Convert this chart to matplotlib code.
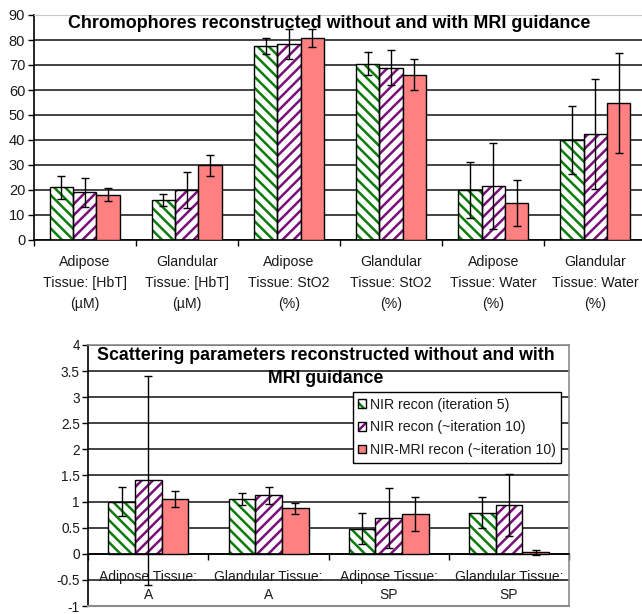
import matplotlib
matplotlib.use("Agg")
import matplotlib.pyplot as plt
from matplotlib.patches import Patch
from matplotlib.lines import Line2D
import numpy as np

plt.rcParams['font.family'] = ['Liberation Sans', 'DejaVu Sans']
plt.rcParams['hatch.linewidth'] = 1.8

# ---- chromophore data (top panel) ----
top_categories = ["Adipose\nTissue: [HbT]\n(µM)", "Glandular\nTissue: [HbT]\n(µM)",
                  "Adipose\nTissue: StO2\n(%)", "Glandular\nTissue: StO2\n(%)",
                  "Adipose\nTissue: Water\n(%)", "Glandular\nTissue: Water\n(%)"]
top_nir5 = [21.0, 16.0, 77.7, 70.5, 20.0, 40.0]
top_nir5_err = [4.6, 2.5, 3.2, 4.7, 11.2, 13.5]
top_nir10 = [19.0, 19.8, 78.2, 68.9, 21.7, 42.5]
top_nir10_err = [5.7, 7.2, 6.0, 7.0, 17.2, 22.0]
top_mri = [18.0, 29.8, 80.8, 66.0, 14.8, 54.7]
top_mri_err = [2.6, 4.2, 3.7, 6.2, 9.3, 20.0]
top_yticks = [0, 10, 20, 30, 40, 50, 60, 70, 80, 90]

# ---- scattering data (bottom panel) ----
bot_categories = ["Adipose Tissue:\nA", "Glandular Tissue:\nA",
                  "Adipose Tissue:\nSP", "Glandular Tissue:\nSP"]
bot_nir5 = [1.0, 1.05, 0.48, 0.79]
bot_nir5_err = [0.28, 0.12, 0.30, 0.30]
bot_nir10 = [1.41, 1.12, 0.69, 0.93]
bot_nir10_err = [2.0, 0.16, 0.57, 0.59]
bot_mri = [1.05, 0.87, 0.76, 0.025]
bot_mri_err = [0.16, 0.11, 0.33, 0.045]
bot_yticks = [-1, -0.5, 0, 0.5, 1, 1.5, 2, 2.5, 3, 3.5, 4]

series_labels = ["NIR recon (iteration 5)", "NIR recon (~iteration 10)",
                 "NIR-MRI recon (~iteration 10)"]

GREEN = "#0a7d0a"
PURPLE = "#7a0f7a"
SALMON = "#ff8080"
TXT = "#1a1a1a"
HATCH_GREEN = "\\\\\\"
HATCH_PURPLE = "///"

W, H = 642, 614
fig = plt.figure(figsize=(W / 100, H / 100), dpi=100)


def px_axes(x0, x1, ytop, ybot):
    return fig.add_axes([x0 / W, 1 - ybot / H, (x1 - x0) / W, (ybot - ytop) / H])


def draw_groups(ax, x, width, s1, e1, s2, e2, s3, e3):
    offs = [-width, 0, width]
    # hatched series
    for vals, errs, col, hatch, off in [(s1, e1, GREEN, HATCH_GREEN, offs[0]),
                                       (s2, e2, PURPLE, HATCH_PURPLE, offs[1])]:
        ax.bar(x + off, vals, width, color="white", edgecolor=col, hatch=hatch,
               linewidth=0, zorder=2)
        ax.bar(x + off, vals, width, fill=False, edgecolor="black", linewidth=1.0, zorder=3)
        ax.errorbar(x + off, vals, yerr=errs, fmt="none", ecolor="black",
                    elinewidth=1.0, capsize=3, capthick=1.0, zorder=4)
    ax.bar(x + offs[2], s3, width, color=SALMON, edgecolor="black", linewidth=1.0, zorder=3)
    ax.errorbar(x + offs[2], s3, yerr=e3, fmt="none", ecolor="black",
                elinewidth=1.0, capsize=3, capthick=1.0, zorder=4)


# ================= top panel =================
ax1 = px_axes(33.5, 646.5, 15, 240)
x1 = np.arange(len(top_categories))
draw_groups(ax1, x1, 0.228, top_nir5, top_nir5_err, top_nir10, top_nir10_err,
            top_mri, top_mri_err)
ax1.set_xlim(-0.5, len(top_categories) - 0.5)
ax1.set_ylim(0, 90)
ax1.set_yticks(top_yticks)
ax1.set_yticklabels([str(v) for v in top_yticks], fontsize=10.5, color=TXT)
ax1.set_axisbelow(True)
ax1.yaxis.grid(True, color="#222222", linewidth=1.2)
ax1.set_xticks(x1)
ax1.set_xticklabels(top_categories, fontsize=10.2, color=TXT, linespacing=1.62)
ax1.set_xticks(np.arange(-0.5, len(top_categories)), minor=True)
ax1.tick_params(axis="x", which="major", length=0, pad=11)
ax1.tick_params(axis="x", which="minor", length=4, width=1, direction="out")
ax1.tick_params(axis="y", length=4, width=1, direction="out", pad=2)
for s in ["left", "bottom"]:
    ax1.spines[s].set_color("black")
    ax1.spines[s].set_linewidth(1.2)
ax1.spines["top"].set_color("#c8c8c8")
ax1.spines["right"].set_visible(False)
fig.text(329 / W, 1 - 23 / H, "Chromophores reconstructed without and with MRI guidance",
         ha="center", va="center", fontsize=12.9, fontweight="bold", color="black")

# ================= bottom panel =================
ax2 = px_axes(88.3, 569, 345, 606)
x2 = np.arange(len(bot_categories))
draw_groups(ax2, x2, 0.222, bot_nir5, bot_nir5_err, bot_nir10, bot_nir10_err,
            bot_mri, bot_mri_err)
ax2.set_xlim(-0.5, len(bot_categories) - 0.5)
ax2.set_ylim(-1, 4)
ax2.set_yticks(bot_yticks)
ax2.set_yticklabels([f"{v:g}" for v in bot_yticks], fontsize=9.8, color=TXT)
ax2.set_axisbelow(True)
ax2.yaxis.grid(True, color="#222222", linewidth=1.2)
ax2.spines["bottom"].set_position(("data", 0))
ax2.spines["bottom"].set_color("black")
ax2.spines["bottom"].set_linewidth(1.2)
ax2.spines["left"].set_color("black")
ax2.spines["left"].set_linewidth(1.2)
for s in ["top", "right"]:
    ax2.spines[s].set_color("#8c8c8c")
    ax2.spines[s].set_linewidth(1.2)
ax2.add_line(Line2D([0, 1], [0, 0], transform=ax2.transAxes, color="#8c8c8c",
                    linewidth=1.5, clip_on=False, zorder=5))
ax2.set_xticks(x2)
ax2.set_xticklabels(bot_categories, fontsize=10, color=TXT, linespacing=1.35)
ax2.set_xticks(np.arange(-0.5, len(bot_categories)), minor=True)
ax2.tick_params(axis="x", which="major", length=0, pad=12)
ax2.tick_params(axis="x", which="minor", length=4, width=1, direction="out")
ax2.tick_params(axis="y", length=4, width=1, direction="out", pad=2)

fig.text(326 / W, 1 - 367 / H,
         "Scattering parameters reconstructed without and with\nMRI guidance",
         ha="center", va="center", fontsize=12.8, fontweight="bold", color="black",
         linespacing=1.5)

handles = [
    (Patch(facecolor="white", edgecolor=GREEN, hatch=HATCH_GREEN, linewidth=0),
     Patch(fill=False, edgecolor="black", linewidth=1.0)),
    (Patch(facecolor="white", edgecolor=PURPLE, hatch=HATCH_PURPLE, linewidth=0),
     Patch(fill=False, edgecolor="black", linewidth=1.0)),
    Patch(facecolor=SALMON, edgecolor="black", linewidth=1.0),
]
leg = ax2.legend(handles, series_labels, loc="upper left", bbox_to_anchor=(0.55, 0.82),
                 borderaxespad=0, fontsize=10.2, frameon=True, fancybox=False,
                 framealpha=1, edgecolor="black", handlelength=0.55, handleheight=0.55,
                 handletextpad=0.25, labelspacing=0.62, borderpad=0.4)
leg.get_frame().set_linewidth(1.0)
for t in leg.get_texts():
    t.set_color(TXT)

fig.savefig("out.png", dpi=100)
